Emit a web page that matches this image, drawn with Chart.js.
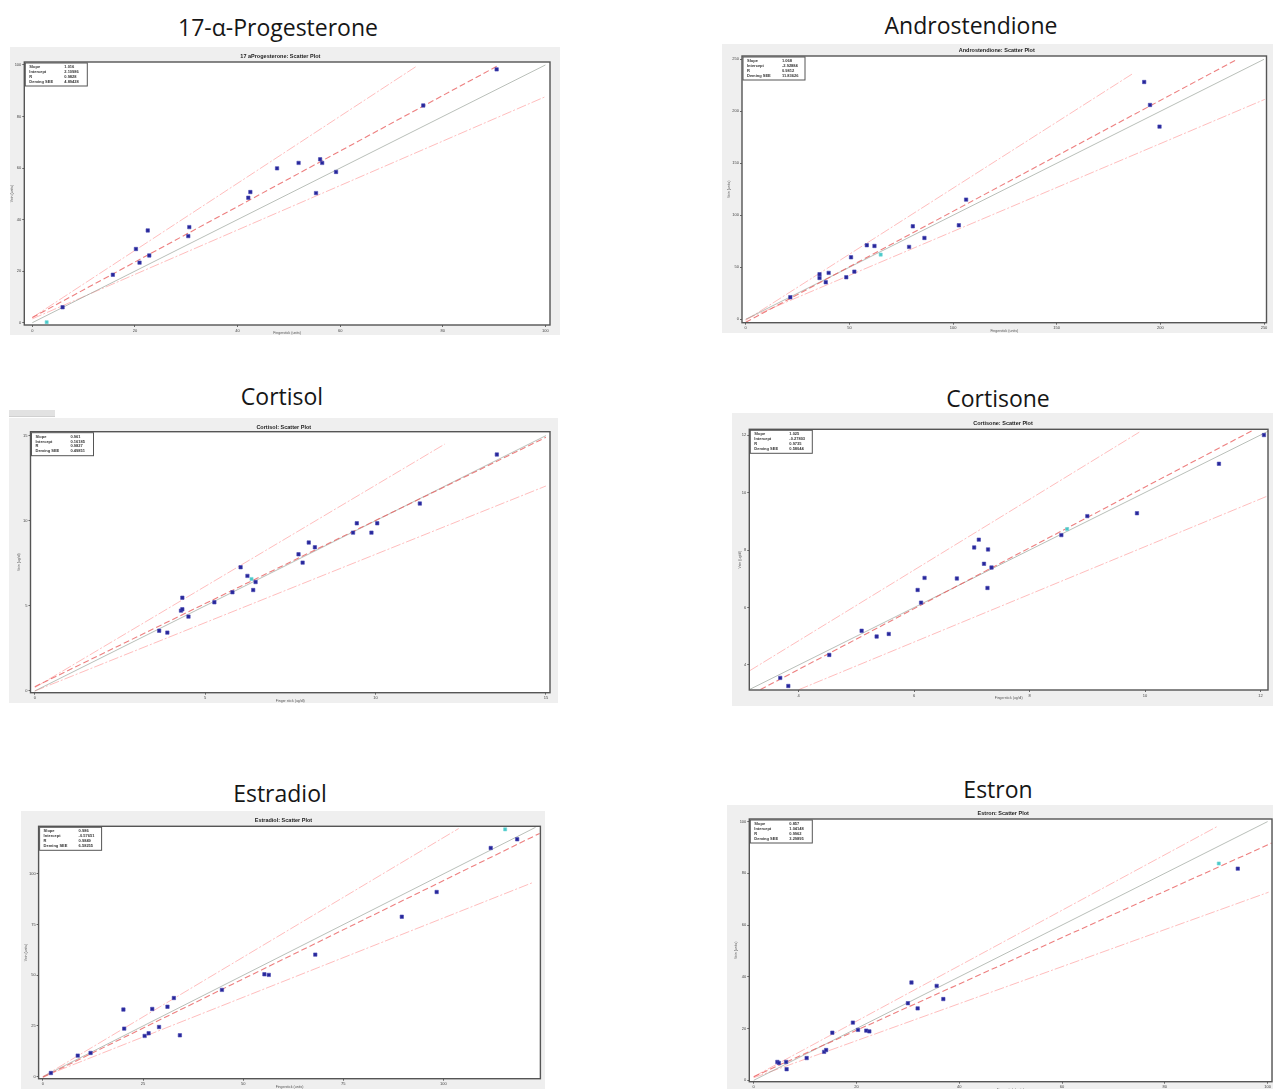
<!DOCTYPE html>
<html>
<head>
<meta charset="utf-8">
<script src="https://cdn.jsdelivr.net/npm/chart.js@4.4.1/dist/chart.umd.min.js"></script>
<style>
  html, body { margin: 0; padding: 0; background: #fff; }
  body { width: 1273px; height: 1089px; overflow: hidden; position: relative; font-family: "Open Sans", sans-serif; }
  .name { position: absolute; font-size: 23px; line-height: 30px; color: #161616; transform: translateX(-50%); white-space: nowrap; }
  .shot { position: absolute; background: #efefef; }
  .shot canvas { display: block; }
  .tab { position: absolute; left: 9px; top: 410px; width: 46px; height: 6px; background: #e2e2e2; border-bottom: 1px solid #d0d0d0; }
</style>
</head>
<body>
<div class="name" style="left:278px;top:12px">17-α-Progesterone</div>
<div class="name" style="left:971px;top:10px">Androstendione</div>
<div class="name" style="left:282px;top:381px">Cortisol</div>
<div class="name" style="left:998px;top:383px">Cortisone</div>
<div class="name" style="left:280px;top:778px">Estradiol</div>
<div class="name" style="left:998px;top:774px">Estron</div>
<div class="tab"></div>

<script>
// ---- data (vein vs. fingerstick) ----
var statLabels = ['Slope', 'Intercept', 'R', 'Deming SEE'];

// 17-α-Progesterone
var progX = [5.9, 15.7, 20.2, 20.9, 22.5, 22.8, 30.4, 30.6, 42.1, 42.5, 47.7, 51.9, 55.3, 56.1, 56.5, 59.2, 76.2, 90.5];
var progY = [6.0, 18.6, 28.6, 23.3, 35.8, 26.1, 33.6, 37.1, 48.5, 50.7, 59.9, 62.0, 50.3, 63.4, 62.0, 58.5, 84.3, 98.3];
var progRef = [2.8, 0.2];
var progIdentity = [0, 0, 100, 100];
var progFit = [0, 2.0, 91, 100];
var progUpper = [0, 2.0, 74.8, 99.4];
var progLower = [0, 1.5, 100, 87.7];
var progStats = ['1.016', '2.10986', '0.9828', '4.89428'];
var progTicks = [0, 20, 40, 60, 80, 100];

// Androstendione
var andX = [21.5, 35.6, 35.6, 38.6, 40.0, 48.5, 50.8, 52.4, 58.4, 62.1, 78.8, 80.6, 86.2, 102.8, 106.3, 192.2, 195.0, 199.6];
var andY = [21.2, 43.3, 39.7, 35.6, 44.6, 40.4, 59.6, 45.8, 71.2, 70.5, 69.6, 89.4, 78.2, 90.4, 115.1, 228.2, 206.1, 185.3];
var andRef = [65.1, 62.2];
var andIdentity = [0, 0, 250, 250];
var andFit = [0, -2.9, 237, 250];
var andUpper = [0, -1.0, 186.9, 236.5];
var andLower = [0, 0, 250.4, 211.5];
var andStats = ['1.068', '-2.92884', '0.9812', '11.83626'];
var andTicks = [0, 50, 100, 150, 200, 250];

// Cortisol
var cortX = [3.65, 3.89, 4.29, 4.33, 4.33, 4.51, 5.27, 5.80, 6.04, 6.24, 6.41, 6.48, 7.74, 7.86, 8.04, 8.22, 9.34, 9.45, 9.88, 10.05, 11.30, 13.56];
var cortY = [3.54, 3.43, 4.72, 4.80, 5.48, 4.37, 5.21, 5.80, 7.27, 6.76, 5.93, 6.40, 8.03, 7.54, 8.72, 8.44, 9.30, 9.85, 9.30, 9.85, 11.01, 13.89];
var cortRef = [6.36, 6.58];
var cortIdentity = [0, 0, 15, 15];
var cortFit = [0, 0.25, 15, 14.9];
var cortUpper = [0, 0.2, 12.03, 14.5];
var cortLower = [0, 0, 15, 12.04];
var cortStats = ['0.961', '0.16185', '0.9827', '0.49851'];
var cortTicks = [0, 5, 10, 15];

// Cortisone
var consX = [3.68, 3.82, 4.53, 5.09, 5.35, 5.56, 6.06, 6.12, 6.18, 6.74, 7.04, 7.12, 7.21, 7.28, 7.27, 7.34, 8.55, 9.00, 9.86, 11.28, 12.06];
var consY = [3.55, 3.27, 4.35, 5.19, 4.99, 5.08, 6.61, 6.17, 7.03, 7.01, 8.09, 8.36, 7.52, 8.02, 6.68, 7.39, 8.52, 9.18, 9.28, 11.00, 12.00];
var consRef = [8.65, 8.73];
var consIdentity = [3.13, 3.13, 12.13, 12.13];
var consFit = [3.2, 3.0, 11.9, 12.2];
var consUpper = [3.15, 3.8, 9.9, 12.1];
var consLower = [4.0, 3.14, 12.1, 9.86];
var consStats = ['1.025', '-0.27803', '0.9735', '0.58044'];
var consTicks = [4, 6, 8, 10, 12];

// Estradiol
var e2X = [2.0, 8.7, 11.9, 20.1, 20.3, 25.4, 26.4, 27.3, 29.0, 31.1, 32.7, 34.2, 44.7, 55.3, 56.4, 68.0, 89.6, 98.3, 111.8, 118.4];
var e2Y = [1.8, 10.4, 11.7, 33.1, 23.7, 20.1, 21.4, 33.4, 24.5, 34.5, 38.8, 20.4, 42.8, 50.5, 50.2, 60.2, 78.9, 91.1, 112.8, 117.1];
var e2Ref = [115.4, 122.0];
var e2Identity = [0, 0, 123, 123];
var e2Fit = [0, -0.3, 124, 120];
var e2Upper = [0, 0, 103.8, 122.4];
var e2Lower = [0, 0, 122.5, 95.9];
var e2Stats = ['0.986', '-0.57651', '0.9849', '6.58255'];
var e2Ticks = [0, 25, 50, 75, 100];

// Estron
var e1X = [4.6, 4.9, 6.3, 6.4, 10.3, 13.7, 14.1, 15.3, 19.3, 20.3, 21.9, 22.5, 30.0, 30.7, 31.9, 35.6, 36.9, 94.2];
var e1Y = [7.1, 6.7, 7.1, 4.3, 8.6, 11.0, 11.7, 18.4, 22.3, 19.5, 19.2, 18.9, 29.8, 37.8, 27.8, 36.5, 31.4, 81.8];
var e1Ref = [90.5, 83.8];
var e1Identity = [0, 0, 100, 100];
var e1Fit = [0, 1.4, 100.8, 91.7];
var e1Upper = [0, 1.4, 90.2, 98.1];
var e1Lower = [0, 1.0, 100.2, 72.7];
var e1Stats = ['0.857', '1.04148', '0.9962', '3.29895'];
var e1Ticks = [0, 20, 40, 60, 80, 100];

// ---- layout of the six screenshots (page pixels) ----
var panels = [
  {box: [10, 47, 550, 288], plot: [24.3, 62, 550, 325], padL: 0.75, titleY: 56, xr: [-1.56, 100.9], yr: [-0.89, 101.16],
   title: '17 aProgesterone: Scatter Plot', xt: 'Fingerstick (units)', yt: 'Vein (units)',
   x: progX, y: progY, ref: progRef, id: progIdentity, fit: progFit, up: progUpper, lo: progLower, stats: progStats, ticks: progTicks},
  {box: [722, 44, 551, 289], plot: [742, 56, 1266.5, 322.7], padL: 5, titleY: 50.7, xr: [-1.8, 251.2], yr: [-3.3, 253.2],
   title: 'Androstendione: Scatter Plot', xt: 'Fingerstick (units)', yt: 'Vein (units)',
   x: andX, y: andY, ref: andRef, id: andIdentity, fit: andFit, up: andUpper, lo: andLower, stats: andStats, ticks: andTicks},
  {box: [8.5, 418, 549.5, 285], plot: [30, 431.7, 550, 692.7], padL: 8.5, titleY: 427.7, xr: [-0.126, 15.12], yr: [-0.1, 15.23],
   title: 'Cortisol: Scatter Plot', xt: 'Finger stick (ug/dl)', yt: 'Vein (ug/dl)',
   x: cortX, y: cortY, ref: cortRef, id: cortIdentity, fit: cortFit, up: cortUpper, lo: cortLower, stats: cortStats, ticks: cortTicks},
  {box: [732, 413, 541, 293], plot: [749.3, 429.3, 1268, 690], padL: 6, titleY: 423.3, xr: [3.144, 12.13], yr: [3.13, 12.2],
   title: 'Cortisone: Scatter Plot', xt: 'Fingerstick (ug/dl)', yt: 'Vein (ug/dl)',
   x: consX, y: consY, ref: consRef, id: consIdentity, fit: consFit, up: consUpper, lo: consLower, stats: consStats, ticks: consTicks},
  {box: [21, 811, 524, 278], plot: [38.6, 826.3, 542.9, 1078.7], padL: 3, titleY: 820.3, xr: [-1.07, 124.2], yr: [-1.0, 123.5],
   title: 'Estradiol: Scatter Plot', xt: 'Fingerstick (units)', yt: 'Vein (units)',
   x: e2X, y: e2Y, ref: e2Ref, id: e2Identity, fit: e2Fit, up: e2Upper, lo: e2Lower, stats: e2Stats, ticks: e2Ticks},
  {box: [727, 805, 550, 287], plot: [749.3, 819, 1272, 1081.7], padL: 7.5, titleY: 813.7, xr: [-0.86, 100.86], yr: [-0.54, 101.0],
   title: 'Estron: Scatter Plot', xt: 'Fingerstick (units)', yt: 'Vein (units)',
   x: e1X, y: e1Y, ref: e1Ref, id: e1Identity, fit: e1Fit, up: e1Upper, lo: e1Lower, stats: e1Stats, ticks: e1Ticks}
];

var XH = 10;        // height of the x axis box
var TITLE_SIZE = 5.5;

Chart.defaults.font.family = '"Liberation Sans", Arial, sans-serif';

function pts(xs, ys) {
  return xs.map(function(v, i) { return {x: v, y: ys[i]}; });
}
function seg(s) {
  return [{x: s[0], y: s[1]}, {x: s[2], y: s[3]}];
}

// white plot area, dark frame and the stats box in the top left corner
var frame = {
  id: 'frame',
  beforeDraw: function(chart) {
    var a = chart.chartArea, ctx = chart.ctx;
    ctx.save();
    ctx.fillStyle = '#ffffff';
    ctx.fillRect(a.left, a.top, a.width, a.height);
    ctx.restore();
  },
  afterDraw: function(chart, args, opts) {
    var a = chart.chartArea, ctx = chart.ctx;
    ctx.save();
    ctx.strokeStyle = '#555';
    ctx.lineWidth = 1.4;
    ctx.strokeRect(a.left, a.top, a.width, a.height);

    var bx = a.left + 1, by = a.top + 1, bw = 62, bh = 23;
    ctx.fillStyle = '#ffffff';
    ctx.fillRect(bx, by, bw, bh);
    ctx.strokeStyle = '#555';
    ctx.lineWidth = 1;
    ctx.strokeRect(bx, by, bw, bh);
    ctx.fillStyle = '#333';
    ctx.font = 'bold 4px "Liberation Sans", Arial, sans-serif';
    ctx.textBaseline = 'middle';
    for (var i = 0; i < statLabels.length; i++) {
      var ry = by + 4 + i * 4.8;
      ctx.fillText(statLabels[i], bx + 4, ry);
      ctx.fillText(opts.stats[i], bx + 39, ry);
    }
    ctx.restore();
  }
};

function lineSet(s, color, width, dash) {
  return {data: seg(s), showLine: true, pointRadius: 0, borderColor: color, borderWidth: width, borderDash: dash || [], fill: false};
}

panels.forEach(function(p, n) {
  var div = document.createElement('div');
  div.className = 'shot';
  div.style.left = p.box[0] + 'px';
  div.style.top = p.box[1] + 'px';
  div.style.width = p.box[2] + 'px';
  div.style.height = p.box[3] + 'px';
  var cv = document.createElement('canvas');
  cv.width = p.box[2];
  cv.height = p.box[3];
  div.appendChild(cv);
  document.body.appendChild(div);

  var l = p.plot[0] - p.box[0], t = p.plot[1] - p.box[1];
  var r = p.plot[2] - p.box[0], b = p.plot[3] - p.box[1];
  var tc = p.titleY - p.box[1];
  var yw = l - p.padL;
  var ticks = p.ticks;

  var axisCommon = {
    type: 'linear',
    afterBuildTicks: function(s) { s.ticks = ticks.map(function(v) { return {value: v}; }); },
    grid: {drawOnChartArea: false, drawTicks: true, tickLength: 2, color: '#666', lineWidth: 1},
    border: {display: false},
    ticks: {font: {size: 4}, color: '#444', padding: 1, maxRotation: 0, autoSkip: false}
  };

  new Chart(cv, {
    type: 'scatter',
    data: {
      datasets: [
        {data: pts(p.x, p.y), pointStyle: 'rect', pointRadius: 2.4, backgroundColor: '#26269a', borderColor: '#4a4ab4', borderWidth: 0.6},
        {data: [{x: p.ref[0], y: p.ref[1]}], pointStyle: 'rect', pointRadius: 2.2, backgroundColor: '#48c8c8', borderColor: '#70d8d8', borderWidth: 0.6},
        lineSet(p.fit, 'rgba(232,95,95,0.8)', 1.1, [6, 3]),
        lineSet(p.id, 'rgba(150,160,150,0.75)', 0.9),
        lineSet(p.up, 'rgba(255,150,150,0.7)', 0.9, [10, 2, 2, 2]),
        lineSet(p.lo, 'rgba(255,150,150,0.7)', 0.9, [10, 2, 2, 2])
      ]
    },
    options: {
      responsive: false,
      animation: false,
      events: [],
      layout: {padding: {left: p.padL, top: 0, right: Math.max(0, p.box[2] - r), bottom: Math.max(0, p.box[3] - b - XH)}},
      plugins: {
        legend: {display: false},
        tooltip: {enabled: false},
        title: {
          display: true,
          text: p.title,
          color: '#222',
          font: {size: TITLE_SIZE, weight: 'bold', lineHeight: 1},
          padding: {top: tc - TITLE_SIZE / 2, bottom: t - tc - TITLE_SIZE / 2}
        },
        frame: {stats: p.stats}
      },
      scales: {
        x: Object.assign({}, axisCommon, {
          min: p.xr[0], max: p.xr[1],
          afterFit: function(s) { s.height = XH; },
          title: {display: true, text: p.xt, color: '#555', font: {size: 3.5, lineHeight: 1}, padding: 0}
        }),
        y: Object.assign({}, axisCommon, {
          min: p.yr[0], max: p.yr[1],
          afterFit: function(s) { s.width = yw; },
          title: {display: true, text: p.yt, color: '#555', font: {size: 3.5, lineHeight: 1}, padding: 0}
        })
      }
    },
    plugins: [frame]
  });
});
</script>
</body>
</html>
